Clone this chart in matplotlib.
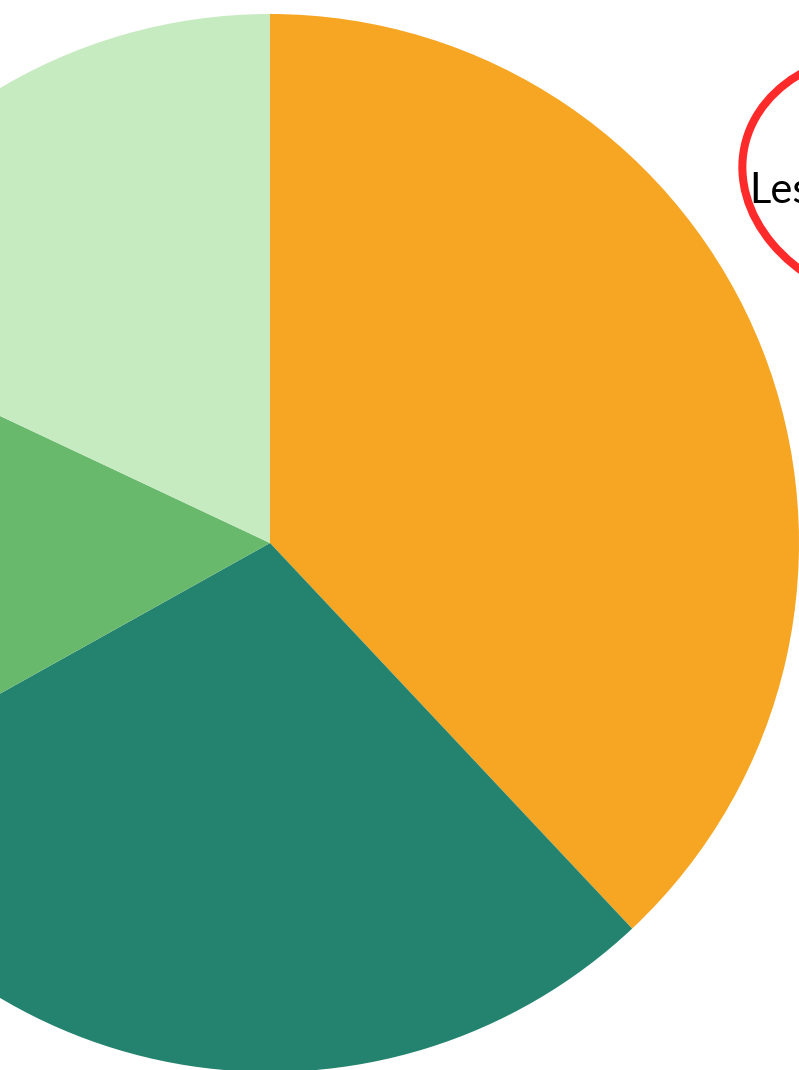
import matplotlib.pyplot as plt
from matplotlib.patches import Ellipse

# slice shares, clockwise from 12 o'clock
labels = ['Orange', 'Teal', 'Green', 'Light green']
values = [38.0, 28.9, 15.1, 18.0]
colors = ['#F6A623', '#23836F', '#69B96D', '#C7EBC0']

note_text = 'Less'

H = 1070  # figure height in px, y measured from the bottom

fig = plt.figure(figsize=(7.99, 10.70), dpi=100)
ax = fig.add_axes([0, 0, 1, 1])

ax.pie(values, colors=colors, startangle=90, counterclock=False,
       center=(270, H - 543), radius=529, frame=True,
       wedgeprops={'linewidth': 0})

# hand-drawn red circle around the note
ax.add_patch(Ellipse((902, H - 180), 322, 252, angle=-12, fill=False,
                     edgecolor='#FF2A2A', linewidth=5.8))
ax.text(749, H - 203, note_text, fontsize=30, family=['Lato', 'DejaVu Sans'],
        color='black', ha='left', va='baseline')

ax.set_xlim(0, 799)
ax.set_ylim(0, H)
ax.set_aspect('equal')
ax.axis('off')

plt.savefig('out.png', dpi=100)
